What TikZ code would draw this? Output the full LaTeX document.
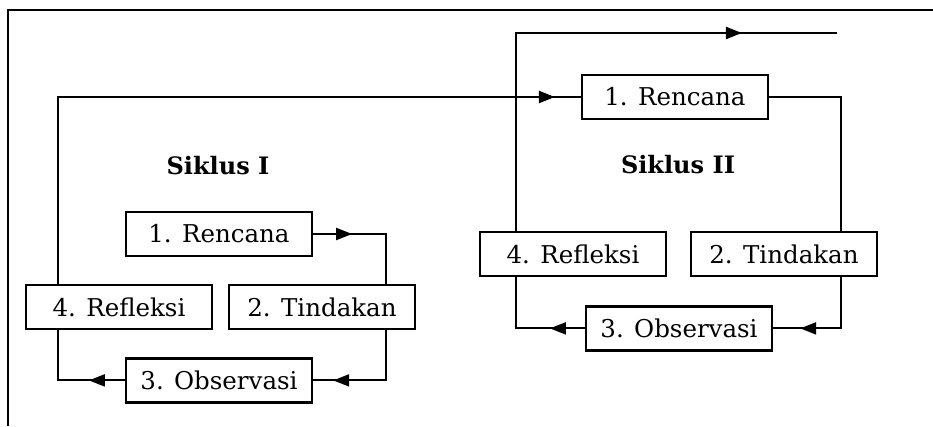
\documentclass[tikz,border=0pt]{standalone}
\usepackage{fontspec}
\setmainfont{DejaVu Serif}
\usetikzlibrary{arrows.meta, positioning, decorations.markings}
\tikzset{
    x=1pt, y=1pt,
    boxNode/.style = {rectangle, draw, line width=2.2pt, minimum width=186pt, minimum height=44pt, inner sep=0pt, font=\fontsize{24.5}{28}\selectfont},
    titleNode/.style = {font=\fontsize{24}{28}\selectfont\bfseries},
    linePath/.style = {draw, line width=2.1pt},
    arrowPath/.style = {linePath, postaction={decorate}, decoration={markings, mark=at position #1 with {\arrow{Triangle[length=16pt, width=12pt]}}}},
    frameLine/.style = {draw, line width=2pt}
}
\begin{document}
\begin{tikzpicture}
    \useasboundingbox (0,0) rectangle (933,426);
    \path[frameLine] (8,0) |- (933,416);
    % Siklus I
    \node(titleI)[titleNode] at (218,260){Siklus I};
    \node(renI)[boxNode] at (219,192){1. Rencana};
    \node(refI)[boxNode, below=27pt of renI, xshift=-100pt]{4. Refleksi};
    \node(tinI)[boxNode, below=27pt of renI, xshift=103pt]{2. Tindakan};
    \node(obsI)[boxNode, below=27pt of refI, xshift=100pt]{3. Observasi};
    \coordinate[right=73pt of renI](cornerI);
    \coordinate(leftI) at (58,329);
    % Siklus II
    \node(titleII)[titleNode] at (678,261){Siklus II};
    \node(renII)[boxNode] at (675,329){1. Rencana};
    \node(refII)[boxNode, below=111pt of renII, xshift=-102pt]{4. Refleksi};
    \node(tinII)[boxNode, below=111pt of renII, xshift=109pt]{2. Tindakan};
    \node(obsII)[boxNode, below=28pt of refII, xshift=106pt]{3. Observasi};
    \coordinate[right=72pt of renII](cornerII);
    \coordinate(leftII) at (516,393);
    \coordinate(nextCycle) at (837,393);
    % cycle I
    \path[arrowPath=39pt] (renI.east) -| (tinI.north -| cornerI);
    \path[arrowPath=103pt] (tinI.south -| cornerI) |- (obsI.east);
    \path[arrowPath=36pt] (obsI.west) -| (refI.south -| leftI);
    \path[arrowPath=684pt] (refI.north -| leftI) |- (renII.west);
    % cycle II
    \path[linePath] (renII.east) -| (tinII.north -| cornerII);
    \path[arrowPath=92pt] (tinII.south -| cornerII) |- (obsII.east);
    \path[arrowPath=35pt] (obsII.west) -| (refII.south -| leftII);
    \path[arrowPath=424pt] (refII.north -| leftII) |- (nextCycle);
\end{tikzpicture}
\end{document}
